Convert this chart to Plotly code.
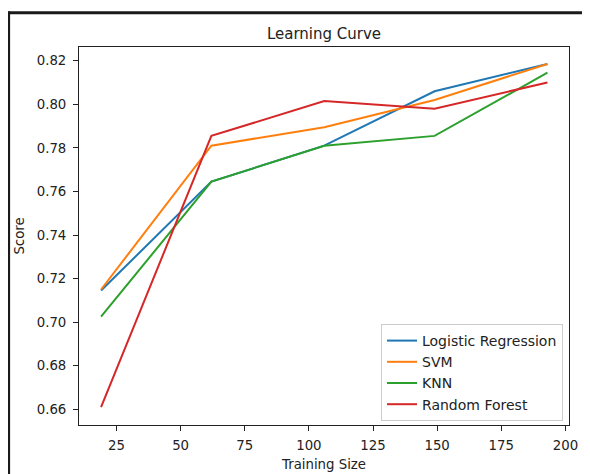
import plotly.graph_objects as go

train_sizes = [19, 62, 106, 149, 193]
series_names = ["Logistic Regression", "SVM", "KNN", "Random Forest"]
lr_scores = [0.7145, 0.7645, 0.781, 0.806, 0.8185]
svm_scores = [0.715, 0.781, 0.7895, 0.802, 0.8185]
knn_scores = [0.7025, 0.7645, 0.781, 0.7855, 0.8145]
rf_scores = [0.661, 0.7855, 0.8015, 0.798, 0.810]
y_ticks = [0.66, 0.68, 0.70, 0.72, 0.74, 0.76, 0.78, 0.80, 0.82]
x_ticks = [25, 50, 75, 100, 125, 150, 175, 200]

colors = ["#1f77b4", "#ff7f0e", "#2ca02c", "#d62728"]
FONT = "DejaVu Sans"

fig = go.Figure()
for name, vals, c in zip(series_names, [lr_scores, svm_scores, knn_scores, rf_scores], colors):
    fig.add_trace(go.Scatter(x=train_sizes, y=vals, mode="lines", name=name,
                             line=dict(color=c, width=2)))

# page has an 8px body margin, so the figure is shifted by 8px
OFF = 8
W, H = 590 - OFF, 474 - OFF
L, T = 79 - OFF, 47 - OFF
R = W - (569 - OFF)
B = H - (425 - OFF)
pw, ph = W - L - R, H - T - B

def px_x(p):
    return (p - OFF - L) / pw

def px_y(p):
    return (H - B - (p - OFF)) / ph

fig.update_layout(
    width=W, height=H,
    margin=dict(l=L, r=R, t=T, b=B, autoexpand=False),
    paper_bgcolor="white", plot_bgcolor="white",
    font=dict(family=FONT, size=13.3, color="#222"),
    title=dict(text="Learning Curve", x=0.5, xanchor="center", xref="paper",
               y=1 - (33.5 - OFF) / H, yanchor="middle", font=dict(size=15, color="#222")),
    showlegend=True,
    legend=dict(x=px_x(563), xanchor="right", y=px_y(421), yanchor="bottom",
                bgcolor="rgba(255,255,255,0.8)", bordercolor="#cccccc", borderwidth=1,
                font=dict(size=14, color="#222"), itemwidth=30, tracegroupgap=0),
    xaxis=dict(range=[10.4, 201.4], tickvals=x_ticks, ticks="outside", ticklen=5,
               tickcolor="#222", showline=True, linecolor="#222", linewidth=1, mirror=True,
               showgrid=False, zeroline=False, ticklabelstandoff=3, automargin=False,
               title=dict(text="Training Size", standoff=7, font=dict(size=13.3))),
    yaxis=dict(range=[0.6528, 0.8263], tickvals=y_ticks, tickformat=".2f", ticks="outside",
               ticklen=5, tickcolor="#222", showline=True, linecolor="#222", linewidth=1,
               mirror=True, showgrid=False, zeroline=False, ticklabelstandoff=4,
               automargin=False,
               title=dict(text="Score", standoff=9, font=dict(size=13.3))),
)

# outer frame lines (top and left) as in the reference screenshot
fig.add_shape(type="line", xref="paper", yref="paper",
              x0=px_x(8), x1=px_x(590), y0=px_y(12.75), y1=px_y(12.75),
              line=dict(color="#1a1a1a", width=3))
fig.add_shape(type="line", xref="paper", yref="paper",
              x0=px_x(8.6), x1=px_x(8.6), y0=px_y(11.5), y1=px_y(474),
              line=dict(color="#1a1a1a", width=3))

fig.write_html("out.html")
